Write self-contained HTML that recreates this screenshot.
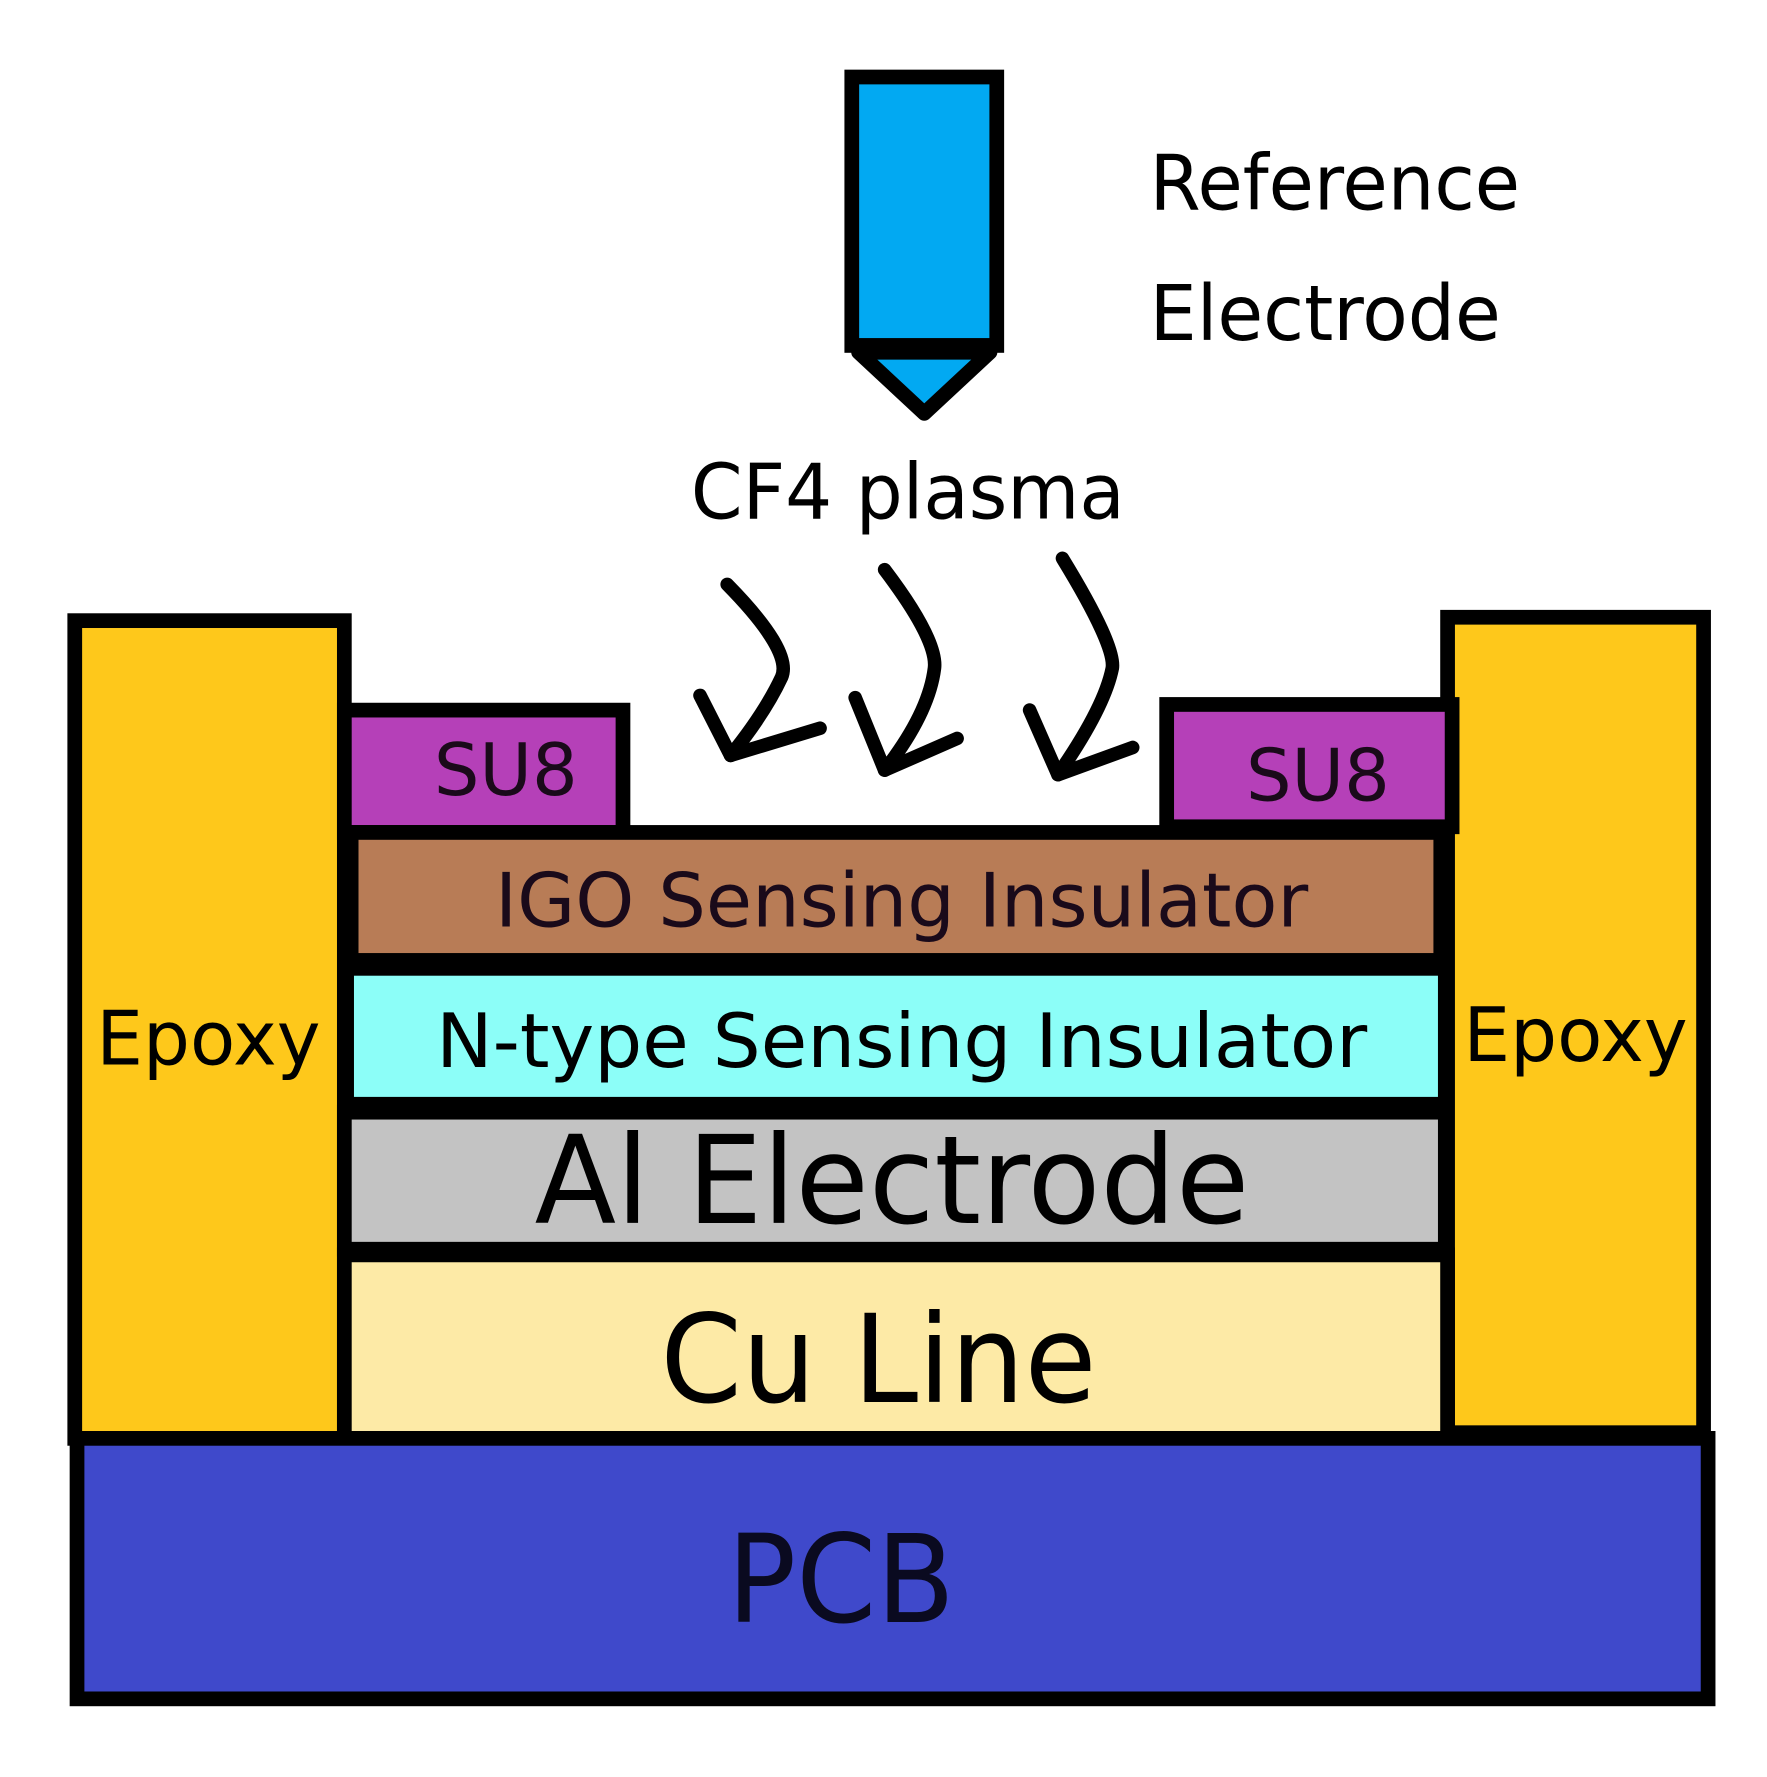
<!DOCTYPE html>
<html><head><style>html,body{margin:0;padding:0;background:#fff}svg{display:block}</style></head><body>
<svg width="1767" height="1777" viewBox="0 0 1560 1569" preserveAspectRatio="none" xmlns="http://www.w3.org/2000/svg" font-family="DejaVu Sans, Liberation Sans, sans-serif">
<g stroke="#000" stroke-width="13">
<rect x="752" y="68" width="128" height="237" fill="#02a9f2"/>
<polygon points="758,311 874,311 816,365" fill="#02a9f2" stroke-linejoin="round"/>
<rect x="66" y="548" width="238" height="722" fill="#fec81b"/>
<rect x="1278" y="545" width="226" height="720" fill="#fec81b"/>
<rect x="304" y="627" width="246" height="108" fill="#b540b8"/>
<rect x="1030" y="622" width="252" height="108" fill="#b540b8"/>
<rect x="310" y="735" width="962" height="113" fill="#b87c56"/>
<rect x="306" y="855" width="970" height="120" fill="#8cfef8"/>
<rect x="304" y="982" width="972" height="121" fill="#c3c3c3"/>
<rect x="304" y="1108" width="974" height="164" fill="#fdeaa6"/>
<rect x="68" y="1270" width="1440" height="230" fill="#3f49cb"/>
</g>
<g stroke="#000" stroke-width="12" fill="none" stroke-linecap="round" stroke-linejoin="round">
<path d="M642,516 Q700,575 690,598 Q675,630 645,667"/><path d="M618,614 L645,667 L724,643"/>
<path d="M781,503 Q828,565 825,590 Q820,630 781,680"/><path d="M755,616 L781,680 L845,652"/>
<path d="M938,493 Q985,570 982,590 Q975,625 934,684"/><path d="M909,627 L934,684 L1000,660"/>
</g>
<g fill="#000" lengthAdjust="spacingAndGlyphs">
<text x="1015" y="185" font-size="68" textLength="327" lengthAdjust="spacingAndGlyphs">Reference</text>
<text x="1015" y="300" font-size="68" textLength="310" lengthAdjust="spacingAndGlyphs">Electrode</text>
<text x="610" y="458" font-size="68" textLength="383" lengthAdjust="spacingAndGlyphs">CF4 plasma</text>
<text x="383" y="702" font-size="64" fill="#1a0a1a" textLength="127" lengthAdjust="spacingAndGlyphs">SU8</text>
<text x="1100" y="707" font-size="64" fill="#1a0a1a" textLength="127" lengthAdjust="spacingAndGlyphs">SU8</text>
<text x="437" y="818" font-size="66" fill="#1a0a1a" textLength="718" lengthAdjust="spacingAndGlyphs">IGO Sensing Insulator</text>
<text x="385" y="942" font-size="66" textLength="822" lengthAdjust="spacingAndGlyphs">N-type Sensing Insulator</text>
<text x="472" y="1080" font-size="108" textLength="631" lengthAdjust="spacingAndGlyphs">Al Electrode</text>
<text x="583" y="1238" font-size="108" textLength="385" lengthAdjust="spacingAndGlyphs">Cu Line</text>
<text x="642" y="1432" font-size="108" fill="#0a0a20" textLength="201" lengthAdjust="spacingAndGlyphs">PCB</text>
<text x="85" y="940" font-size="66" textLength="198" lengthAdjust="spacingAndGlyphs">Epoxy</text>
<text x="1292" y="937" font-size="66" textLength="198" lengthAdjust="spacingAndGlyphs">Epoxy</text>
</g>
</svg>
</body></html>
